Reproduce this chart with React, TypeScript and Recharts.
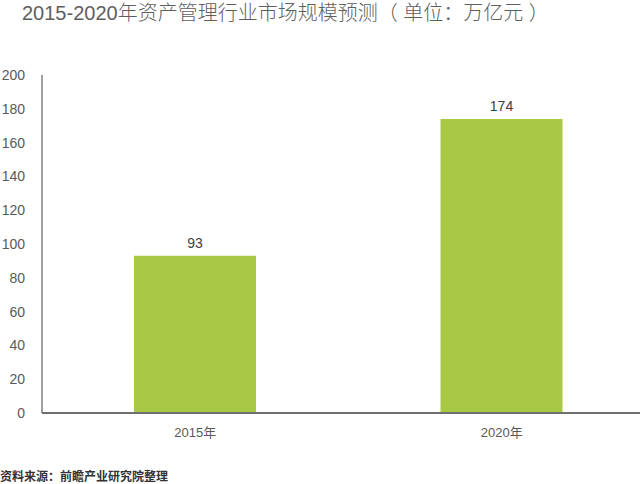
import React from "react";
import { BarChart, Bar, XAxis, YAxis, LabelList } from "recharts";

const categories = ["2015年", "2020年"];
const values = [93, 174];
const yTicks = [0, 20, 40, 60, 80, 100, 120, 140, 160, 180, 200];
const title = "2015-2020年资产管理行业市场规模预测（ 单位：万亿元 ）";
const source = "资料来源：前瞻产业研究院整理";

const data = categories.map((c, i) => ({ name: c, value: values[i] }));

const FONT = "'Liberation Sans', 'Noto Sans CJK SC', sans-serif";

export default function App() {
  return (
    <div style={{ position: "absolute", left: 0, top: 0, width: 640, height: 484, overflow: "hidden", background: "#fff", fontFamily: FONT }}>
      <div style={{ position: "absolute", left: 22, top: 0, fontSize: 20, color: "#5e5e5e", whiteSpace: "nowrap", fontFamily: FONT, fontWeight: 300, lineHeight: "26px" }}>
        {title}
      </div>
      <BarChart
        width={660}
        height={484}
        data={data}
        margin={{ top: 75, left: 0, right: 5, bottom: 0 }}
        barCategoryGap="30%"
      >
        <YAxis
          width={42}
          domain={[0, 200]}
          ticks={yTicks}
          interval={0}
          tickSize={0}
          tickMargin={17}
          axisLine={{ stroke: "#404040", strokeWidth: 1 }}
          tickLine={false}
          tick={{ fontSize: 14, fill: "#595959", fontFamily: FONT }}
        />
        <XAxis
          dataKey="name"
          height={71}
          tickSize={0}
          tickMargin={15}
          axisLine={{ stroke: "#6f6f6f", strokeWidth: 2 }}
          tickLine={false}
          tick={{ fontSize: 13, fill: "#595959", fontFamily: FONT }}
        />
        <Bar dataKey="value" fill="#A9C845" barSize={122} isAnimationActive={false}>
          <LabelList dataKey="value" position="top" offset={8} style={{ fontSize: 14, fill: "#404040", fontFamily: FONT }} />
        </Bar>
      </BarChart>
      <div style={{ position: "absolute", left: 0, top: 468, fontSize: 12, fontWeight: 700, color: "#333", whiteSpace: "nowrap", fontFamily: "'Noto Sans CJK SC', sans-serif", lineHeight: "16px" }}>
        {source}
      </div>
    </div>
  );
}
